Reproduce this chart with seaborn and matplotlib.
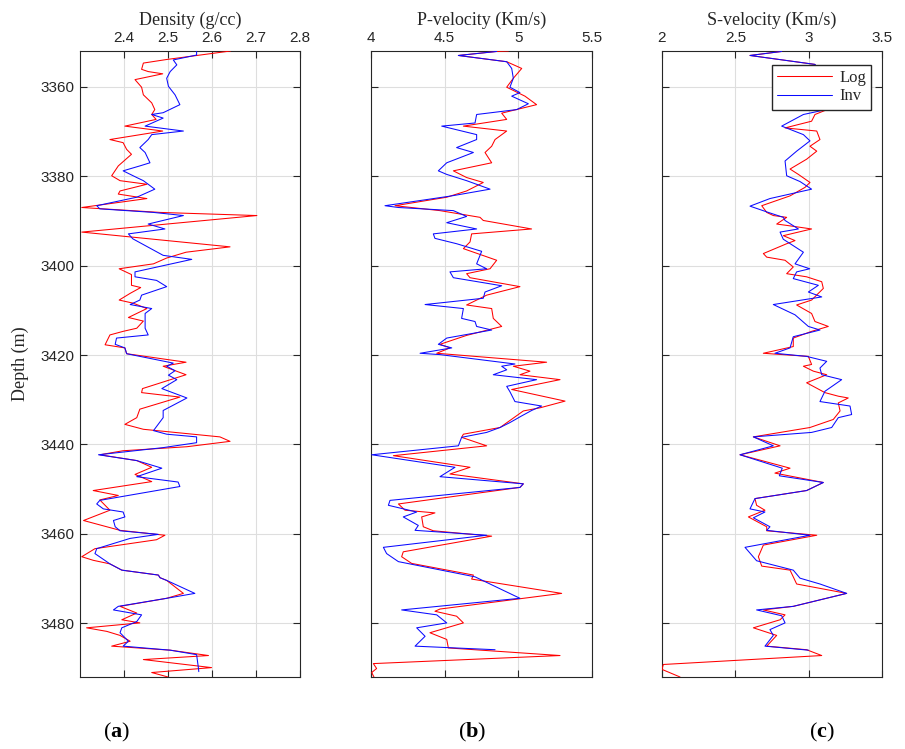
import matplotlib
matplotlib.use("Agg")
import matplotlib.pyplot as plt
import seaborn as sns
import pandas as pd

# ---------------- data ----------------
den_log_depth = [3352.0, 3353.9, 3354.7, 3356.1, 3356.6, 3357.1, 3358.4, 3360.1, 3361.8, 3363.6, 3365.1, 3366.2,
                 3367.3, 3368.8, 3369.9, 3371.8, 3372.5, 3374.0, 3375.1, 3377.7, 3379.9, 3381.0, 3381.8, 3383.3,
                 3384.0, 3385.0, 3387.0, 3388.1, 3388.8, 3392.5, 3395.8, 3397.0, 3398.3, 3399.6, 3400.7, 3402.0,
                 3404.4, 3404.9, 3406.2, 3407.7, 3408.4, 3409.6, 3411.6, 3412.4, 3414.0, 3414.7, 3415.5, 3417.7,
                 3418.4, 3419.7, 3421.6, 3422.5, 3424.4, 3427.5, 3428.4, 3429.4, 3432.1, 3434.0, 3435.5, 3436.6,
                 3438.3, 3439.3, 3440.5, 3441.4, 3442.3, 3443.6, 3445.1, 3446.7, 3448.3, 3450.3, 3451.4, 3452.4,
                 3454.7, 3457.0, 3459.2, 3460.3, 3461.3, 3463.3, 3465.1, 3465.9, 3466.7, 3468.1, 3469.2, 3469.8,
                 3470.4, 3473.3, 3474.4, 3476.2, 3477.7, 3479.2, 3479.9, 3481.0, 3481.8, 3482.7, 3484.0, 3485.1,
                 3486.0, 3487.2, 3488.1, 3489.9, 3491.0, 3492.0]
den_log = [2.642, 2.497, 2.444, 2.440, 2.455, 2.488, 2.425, 2.440, 2.444, 2.463, 2.470, 2.463,
           2.473, 2.402, 2.488, 2.368, 2.398, 2.406, 2.417, 2.387, 2.372, 2.391, 2.452, 2.391,
           2.387, 2.452, 2.304, 2.482, 2.702, 2.304, 2.641, 2.541, 2.497, 2.467, 2.389, 2.417,
           2.417, 2.438, 2.414, 2.389, 2.421, 2.452, 2.410, 2.444, 2.429, 2.398, 2.368, 2.357,
           2.402, 2.406, 2.541, 2.489, 2.541, 2.442, 2.440, 2.527, 2.436, 2.429, 2.402, 2.444,
           2.618, 2.641, 2.543, 2.398, 2.345, 2.429, 2.463, 2.425, 2.463, 2.330, 2.387, 2.345,
           2.368, 2.308, 2.391, 2.493, 2.474, 2.334, 2.304, 2.330, 2.368, 2.395, 2.478, 2.482,
           2.497, 2.535, 2.497, 2.391, 2.429, 2.395, 2.436, 2.315, 2.361, 2.391, 2.414, 2.372,
           2.505, 2.592, 2.444, 2.599, 2.463, 2.500]

den_inv_depth = [3352.0, 3352.9, 3354.0, 3355.1, 3356.6, 3358.1, 3359.9, 3361.8, 3364.0, 3365.8, 3366.2, 3367.0,
                 3368.8, 3369.9, 3370.7, 3371.8, 3373.6, 3374.7, 3377.0, 3377.7, 3378.8, 3380.3, 3381.0, 3382.9,
                 3384.7, 3386.6, 3387.3, 3388.1, 3388.8, 3390.7, 3391.8, 3392.9, 3394.0, 3397.7, 3398.6, 3401.4,
                 3402.5, 3403.3, 3404.7, 3406.6, 3407.7, 3408.7, 3409.6, 3410.7, 3414.0, 3415.5, 3416.2, 3417.6,
                 3418.4, 3419.7, 3421.8, 3422.5, 3423.5, 3424.5, 3425.5, 3427.5, 3429.6, 3432.4, 3434.0, 3436.9,
                 3437.7, 3438.3, 3439.6, 3440.7, 3442.3, 3443.6, 3445.3, 3447.2, 3448.4, 3449.4, 3452.5, 3453.3,
                 3454.4, 3455.1, 3456.2, 3457.0, 3458.4, 3459.3, 3460.1, 3461.0, 3463.3, 3464.4, 3466.7, 3468.1,
                 3469.2, 3469.8, 3470.4, 3473.3, 3474.4, 3476.2, 3477.0, 3478.1, 3479.6, 3481.0, 3482.1, 3484.0,
                 3485.1, 3486.0, 3487.0, 3489.9, 3490.8]
den_inv = [2.565, 2.565, 2.512, 2.520, 2.505, 2.497, 2.501, 2.516, 2.527, 2.489, 2.463, 2.489,
           2.448, 2.535, 2.463, 2.455, 2.436, 2.448, 2.459, 2.436, 2.398, 2.429, 2.444, 2.470,
           2.429, 2.338, 2.345, 2.467, 2.535, 2.455, 2.493, 2.410, 2.420, 2.489, 2.554, 2.425,
           2.425, 2.474, 2.497, 2.440, 2.436, 2.414, 2.463, 2.448, 2.448, 2.455, 2.383, 2.380,
           2.402, 2.406, 2.512, 2.497, 2.516, 2.501, 2.520, 2.486, 2.543, 2.489, 2.489, 2.467,
           2.497, 2.565, 2.565, 2.489, 2.342, 2.429, 2.486, 2.429, 2.523, 2.527, 2.345, 2.338,
           2.353, 2.398, 2.402, 2.376, 2.380, 2.391, 2.478, 2.414, 2.338, 2.334, 2.368, 2.395,
           2.478, 2.482, 2.497, 2.561, 2.497, 2.387, 2.376, 2.440, 2.429, 2.395, 2.391, 2.410,
           2.398, 2.505, 2.565, 2.569, 2.570]

vp_log_depth = [3352.0, 3352.1, 3353.0, 3354.4, 3355.9, 3358.1, 3360.1, 3362.1, 3364.0, 3365.9, 3367.3, 3368.8,
                3369.9, 3371.8, 3373.3, 3374.7, 3377.0, 3378.8, 3380.3, 3381.4, 3383.3, 3384.7, 3386.6, 3387.7,
                3389.2, 3389.9, 3391.8, 3392.9, 3394.7, 3396.2, 3398.8, 3400.7, 3401.8, 3402.7, 3404.7, 3406.6,
                3408.8, 3409.6, 3411.8, 3413.6, 3415.6, 3417.6, 3418.4, 3419.6, 3421.6, 3422.5, 3423.6, 3424.4,
                3425.5, 3427.7, 3430.3, 3431.8, 3432.5, 3436.2, 3437.7, 3438.4, 3440.3, 3442.5, 3445.1, 3446.6,
                3448.8, 3449.6, 3453.3, 3454.7, 3455.3, 3456.2, 3458.4, 3459.3, 3460.5, 3464.0, 3465.1, 3466.6,
                3469.2, 3470.1, 3473.3, 3476.8, 3477.3, 3478.4, 3479.9, 3482.1, 3483.6, 3485.5, 3487.2, 3489.0,
                3490.1, 3491.0, 3492.0]
vp_log = [4.932, 4.853, 4.593, 4.921, 5.023, 4.966, 4.921, 5.045, 5.124, 4.887, 4.921, 4.627,
          4.921, 4.842, 4.819, 4.774, 4.819, 4.559, 4.649, 4.762, 4.649, 4.514, 4.163, 4.468,
          4.740, 4.762, 5.090, 4.683, 4.672, 4.627, 4.853, 4.808, 4.649, 4.672, 5.011, 4.785,
          4.649, 4.819, 4.830, 4.887, 4.649, 4.468, 4.536, 4.446, 5.192, 4.966, 5.079, 5.011,
          5.283, 4.955, 5.317, 5.147, 5.034, 4.876, 4.627, 4.615, 4.785, 4.152, 4.672, 4.536,
          5.034, 5.011, 4.186, 4.231, 4.434, 4.344, 4.355, 4.423, 4.819, 4.219, 4.208, 4.276,
          4.695, 4.683, 5.294, 4.468, 4.434, 4.581, 4.627, 4.400, 4.514, 4.525, 5.283, 4.016,
          4.038, 4.005, 4.020]

vp_inv_depth = [3352.1, 3353.0, 3354.4, 3355.9, 3358.1, 3360.1, 3361.3, 3362.1, 3363.8, 3365.1, 3366.2, 3368.1,
                3368.8, 3370.7, 3371.8, 3373.6, 3374.7, 3377.0, 3378.8, 3379.6, 3381.0, 3382.9, 3384.4, 3386.6,
                3387.0, 3387.7, 3389.0, 3390.4, 3391.8, 3392.9, 3393.9, 3395.1, 3396.8, 3397.7, 3399.6, 3400.7,
                3401.4, 3402.7, 3404.5, 3405.9, 3407.3, 3408.7, 3409.6, 3411.8, 3412.5, 3413.6, 3414.4, 3416.2,
                3417.6, 3418.4, 3419.6, 3419.9, 3422.0, 3422.5, 3423.3, 3424.4, 3425.5, 3427.0, 3428.2, 3430.4,
                3431.4, 3432.4, 3433.6, 3435.1, 3436.2, 3437.3, 3438.4, 3440.3, 3442.3, 3445.1, 3447.2, 3448.8,
                3449.6, 3452.5, 3453.6, 3455.1, 3456.2, 3458.1, 3459.2, 3460.3, 3463.0, 3464.4, 3466.2, 3469.6,
                3474.4, 3477.0, 3478.1, 3479.9, 3481.0, 3482.9, 3485.1, 3485.9]
vp_inv = [4.853, 4.593, 4.921, 4.955, 4.966, 4.943, 5.011, 4.955, 5.068, 4.989, 4.717, 4.706,
          4.480, 4.717, 4.717, 4.581, 4.695, 4.514, 4.457, 4.514, 4.649, 4.808, 4.548, 4.095,
          4.186, 4.559, 4.649, 4.514, 4.717, 4.423, 4.434, 4.581, 4.751, 4.740, 4.717, 4.785,
          4.536, 4.559, 4.887, 4.774, 4.762, 4.367, 4.627, 4.615, 4.706, 4.717, 4.819, 4.514,
          4.457, 4.548, 4.333, 4.468, 4.977, 4.887, 4.921, 4.830, 5.124, 4.921, 4.943, 4.977,
          5.158, 5.090, 5.023, 4.943, 4.876, 4.785, 4.615, 4.593, 4.005, 4.570, 4.468, 5.034,
          5.011, 4.129, 4.118, 4.310, 4.219, 4.321, 4.299, 4.785, 4.084, 4.106, 4.186, 4.706,
          5.011, 4.208, 4.446, 4.514, 4.310, 4.367, 4.299, 4.842]

vs_log_depth = [3352.1, 3353.0, 3355.0, 3356.5, 3358.5, 3360.5, 3362.5, 3365.0, 3366.2, 3367.7, 3369.2, 3369.9,
                3371.8, 3373.3, 3374.4, 3376.2, 3378.4, 3379.6, 3381.4, 3382.5, 3384.4, 3386.6, 3388.1, 3388.8,
                3389.2, 3390.7, 3391.0, 3391.8, 3393.3, 3394.4, 3395.1, 3397.3, 3398.1, 3398.8, 3400.3, 3401.8,
                3402.5, 3403.6, 3405.1, 3407.7, 3408.8, 3410.7, 3412.5, 3413.6, 3414.7, 3416.2, 3418.1, 3419.6,
                3420.3, 3422.1, 3422.5, 3423.6, 3424.4, 3426.2, 3428.4, 3429.2, 3429.6, 3430.7, 3432.5, 3434.4,
                3436.2, 3438.3, 3440.3, 3442.3, 3445.3, 3446.4, 3448.5, 3450.3, 3452.1, 3453.6, 3454.7, 3456.2,
                3458.4, 3459.3, 3460.3, 3462.5, 3465.1, 3467.2, 3468.1, 3469.6, 3471.2, 3473.3, 3476.2, 3477.0,
                3478.1, 3479.2, 3481.0, 3482.7, 3485.1, 3485.9, 3487.2, 3489.2, 3490.3, 3492.0]
vs_log = [2.816, 2.600, 3.043, 3.060, 3.100, 3.080, 3.120, 3.134, 3.043, 3.020, 2.839, 3.055,
          3.077, 3.009, 3.055, 2.986, 2.873, 2.930, 3.009, 2.975, 2.873, 2.680, 2.714, 2.759,
          2.850, 2.782, 2.850, 3.020, 2.827, 2.907, 2.850, 2.691, 2.714, 2.839, 2.895, 2.850,
          2.986, 3.089, 3.100, 3.020, 2.918, 3.020, 3.043, 3.134, 3.020, 2.895, 2.895, 2.691,
          2.998, 3.020, 2.964, 3.032, 3.123, 2.986, 3.111, 3.202, 3.270, 3.202, 3.214, 3.168,
          3.009, 2.623, 2.805, 2.532, 2.873, 2.770, 3.100, 2.986, 2.634, 2.645, 2.702, 2.589,
          2.714, 2.714, 3.055, 2.691, 2.657, 2.680, 2.873, 2.895, 2.918, 3.259, 2.895, 2.691,
          2.839, 2.805, 2.623, 2.782, 2.714, 2.986, 3.089, 2.009, 2.000, 2.123]

vs_inv_depth = [3352.1, 3353.0, 3355.0, 3357.0, 3360.0, 3363.0, 3365.0, 3366.2, 3368.8, 3370.7, 3372.1, 3374.4,
                3376.6, 3379.9, 3381.2, 3382.9, 3385.0, 3386.7, 3388.1, 3389.2, 3389.9, 3391.8, 3392.5, 3394.1,
                3397.0, 3399.6, 3400.7, 3401.4, 3402.9, 3404.4, 3405.9, 3407.0, 3408.7, 3411.0, 3413.6, 3414.4,
                3415.9, 3418.4, 3419.6, 3420.3, 3421.4, 3422.9, 3424.4, 3425.5, 3428.1, 3430.4, 3431.4, 3433.3,
                3434.0, 3436.2, 3437.3, 3438.3, 3440.3, 3442.3, 3445.3, 3447.0, 3448.5, 3450.3, 3452.1, 3454.4,
                3455.1, 3456.4, 3458.4, 3459.2, 3460.3, 3463.0, 3466.0, 3468.1, 3469.9, 3471.2, 3473.3, 3476.2,
                3477.0, 3478.3, 3479.9, 3481.4, 3482.7, 3485.1, 3486.0]
vs_inv = [2.816, 2.600, 3.043, 3.080, 3.100, 3.120, 3.134, 2.964, 2.816, 2.964, 3.009, 2.918,
          2.839, 2.850, 2.941, 3.020, 2.736, 2.600, 2.725, 2.827, 2.839, 2.930, 2.805, 2.827,
          2.964, 2.907, 3.007, 2.918, 2.895, 3.066, 2.998, 3.089, 2.759, 2.907, 2.998, 3.077,
          2.895, 2.873, 2.770, 2.986, 3.123, 3.077, 3.089, 3.225, 3.111, 3.077, 3.282, 3.293,
          3.202, 3.157, 3.020, 2.623, 2.759, 2.532, 2.820, 2.800, 3.100, 2.986, 2.634, 2.600,
          2.702, 2.623, 2.736, 2.714, 3.009, 2.566, 2.645, 2.895, 2.941, 3.077, 3.259, 2.895,
          2.645, 2.816, 2.839, 2.736, 2.759, 2.702, 2.998]

titles = ["Density (g/cc)", "P-velocity (Km/s)", "S-velocity (Km/s)"]
xlims = [(2.3, 2.8), (4.0, 5.5), (2.0, 3.5)]
xticks = [[2.4, 2.5, 2.6, 2.7, 2.8], [4, 4.5, 5, 5.5], [2, 2.5, 3, 3.5]]
xticklabels = [["2.4", "2.5", "2.6", "2.7", "2.8"], ["4", "4.5", "5", "5.5"], ["2", "2.5", "3", "3.5"]]
yticks = [3360, 3380, 3400, 3420, 3440, 3460, 3480]
ylim = (3352, 3492)
panel_tags = ["a", "b", "c"]
series_names = ["Log", "Inv"]

# ---------------- style ----------------
sns.set_style("ticks")
plt.rcParams["font.family"] = ["Liberation Sans", "DejaVu Sans"]
plt.rcParams["mathtext.fontset"] = "custom"
plt.rcParams["mathtext.rm"] = "Liberation Serif"
plt.rcParams["mathtext.bf"] = "Liberation Serif:bold"

W, H = 905, 749
fig = plt.figure(figsize=(W / 100, H / 100), dpi=100)

ax_top, ax_bot = 51, 677
lefts = [80, 371, 662]
widths = [220, 221, 220]

logs = [(den_log_depth, den_log), (vp_log_depth, vp_log), (vs_log_depth, vs_log)]
invs = [(den_inv_depth, den_inv), (vp_inv_depth, vp_inv), (vs_inv_depth, vs_inv)]
tag_x = [117, 472, 822]

serif = "Liberation Serif"
dark = "#262626"
for i in range(3):
    ax = fig.add_axes([lefts[i] / W, (H - ax_bot) / H, widths[i] / W, (ax_bot - ax_top) / H])
    dl = pd.DataFrame({"depth": logs[i][0], "value": logs[i][1]})
    di = pd.DataFrame({"depth": invs[i][0], "value": invs[i][1]})
    sns.lineplot(data=dl, x="value", y="depth", sort=False, estimator=None, orient="y",
                 color="#ff0000", lw=0.75, ax=ax, label=series_names[0], zorder=3)
    sns.lineplot(data=di, x="value", y="depth", sort=False, estimator=None, orient="y",
                 color="#0a0aff", lw=0.75, ax=ax, label=series_names[1], zorder=3)
    ax.set_xlim(*xlims[i])
    ax.set_ylim(ylim[1], ylim[0])
    ax.set_xticks(xticks[i])
    ax.set_xticklabels(xticklabels[i])
    ax.set_yticks(yticks)
    ax.set_xlabel("")
    ax.set_ylabel("")
    ax.grid(True, color="#dedede", lw=0.8, zorder=0)
    ax.set_axisbelow(True)
    ax.tick_params(axis="x", which="both", top=True, bottom=True, labeltop=True, labelbottom=False,
                   direction="in", length=5, width=0.8, colors=dark, labelsize=11, pad=4)
    ax.tick_params(axis="y", which="both", left=True, right=True, direction="in", length=5,
                   width=0.8, colors=dark, labelsize=11, pad=4, labelleft=(i == 0))
    for s in ax.spines.values():
        s.set_visible(True)
        s.set_color(dark)
        s.set_linewidth(0.8)
    ax.text(0.5, 1 + 31 / (ax_bot - ax_top), titles[i], transform=ax.transAxes, ha="center",
            va="center", fontsize=13, family=serif, color=dark)
    if i == 2:
        ax.legend(loc="upper right", bbox_to_anchor=(1 - 11 / 220, 1 - 14 / 626), borderaxespad=0,
                  frameon=True, fancybox=False, edgecolor=dark, framealpha=1,
                  prop={"family": serif, "size": 12}, handlelength=3.3, borderpad=0.3,
                  labelspacing=0.15, handletextpad=0.4)
    else:
        lg = ax.get_legend()
        if lg is not None:
            lg.remove()
    if i == 0:
        ax.set_ylabel("Depth (m)", family=serif, fontsize=13, color=dark, labelpad=8)
    fig.text(tag_x[i] / W, 1 - 732 / H, r"($\mathbf{%s}$)" % panel_tags[i], ha="center", va="center",
             fontsize=16, family=serif, color="black")

fig.savefig("out.png", dpi=100)
